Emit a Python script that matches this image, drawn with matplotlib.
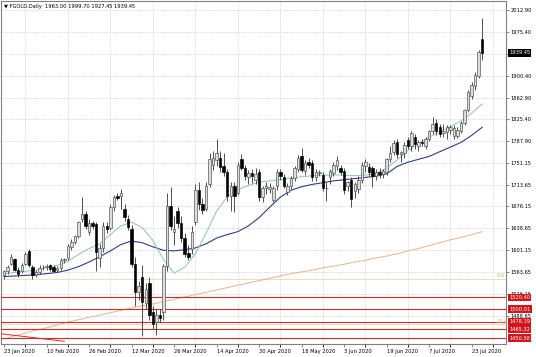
import numpy as np
import matplotlib.pyplot as plt

# daily OHLC, one value per bar (23 Jan 2020 .. 28 Jul 2020)
opens = [1558, 1565, 1578, 1586, 1567, 1566, 1578, 1600, 1573, 1558, 1563, 1572,
         1572, 1575, 1573, 1568, 1570, 1584, 1588, 1606, 1616, 1626, 1655, 1663,
         1633, 1648, 1646, 1588, 1605, 1643, 1640, 1675, 1694, 1694, 1672, 1655,
         1638, 1578, 1530, 1555, 1510, 1545, 1495, 1478, 1490, 1496, 1574, 1677,
         1632, 1668, 1648, 1622, 1596, 1604, 1650, 1705, 1680, 1672, 1715, 1748,
         1756, 1760, 1745, 1735, 1694, 1712, 1700, 1757, 1742, 1726, 1734, 1722,
         1735, 1692, 1708, 1706, 1688, 1711, 1735, 1726, 1701, 1711, 1725, 1741,
         1762, 1737, 1752, 1750, 1726, 1734, 1730, 1707, 1726, 1733, 1745, 1742,
         1737, 1712, 1722, 1703, 1706, 1722, 1745, 1743, 1742, 1728, 1735, 1732,
         1735, 1757, 1769, 1786, 1766, 1768, 1790, 1779, 1795, 1780, 1787, 1780,
         1792, 1805, 1820, 1812, 1802, 1803, 1808, 1797, 1797, 1806, 1820, 1842,
         1866, 1882, 1900, 1963.00]
highs = [1568, 1576, 1595, 1588, 1572, 1580, 1598, 1604, 1576, 1567, 1575, 1576,
         1578, 1577, 1575, 1574, 1588, 1588, 1612, 1620, 1628, 1652, 1692, 1668,
         1655, 1652, 1650, 1612, 1650, 1650, 1680, 1695, 1700, 1706, 1680, 1662,
         1645, 1590, 1548, 1575, 1545, 1555, 1505, 1500, 1500, 1578, 1700, 1710,
         1660, 1675, 1660, 1630, 1610, 1642, 1715, 1718, 1690, 1718, 1768, 1772,
         1791, 1772, 1768, 1740, 1718, 1718, 1752, 1766, 1748, 1738, 1740, 1742,
         1740, 1712, 1718, 1716, 1712, 1740, 1740, 1732, 1716, 1728, 1745, 1765,
         1777, 1755, 1760, 1756, 1740, 1738, 1736, 1718, 1740, 1752, 1762, 1748,
         1742, 1720, 1726, 1718, 1728, 1752, 1758, 1750, 1746, 1740, 1742, 1740,
         1760, 1780, 1790, 1792, 1772, 1786, 1795, 1806, 1800, 1790, 1792, 1796,
         1808, 1829, 1826, 1818, 1818, 1816, 1815, 1815, 1812, 1823, 1844, 1876,
         1890, 1906, 1945, 1999.70]
lows = [1552, 1560, 1575, 1565, 1556, 1562, 1575, 1572, 1552, 1555, 1560, 1568,
        1567, 1566, 1564, 1563, 1568, 1580, 1585, 1602, 1611, 1622, 1650, 1638,
        1628, 1638, 1566, 1573, 1598, 1630, 1636, 1668, 1688, 1672, 1652, 1636,
        1572, 1505, 1515, 1454, 1500, 1482, 1466, 1455, 1478, 1482, 1565, 1635,
        1610, 1640, 1615, 1590, 1585, 1595, 1645, 1670, 1664, 1668, 1710, 1738,
        1745, 1735, 1728, 1685, 1668, 1666, 1695, 1738, 1722, 1715, 1716, 1715,
        1685, 1683, 1698, 1700, 1684, 1705, 1722, 1708, 1695, 1706, 1720, 1736,
        1735, 1730, 1742, 1720, 1720, 1728, 1703, 1686, 1715, 1728, 1738, 1730,
        1698, 1702, 1675, 1690, 1700, 1716, 1735, 1728, 1710, 1722, 1725, 1725,
        1730, 1752, 1765, 1760, 1752, 1760, 1775, 1771, 1775, 1771, 1780, 1775,
        1788, 1800, 1798, 1795, 1796, 1792, 1800, 1792, 1794, 1802, 1815, 1838,
        1860, 1876, 1896, 1927.45]
closes = [1566, 1572, 1589, 1568, 1561, 1576, 1595, 1576, 1558, 1563, 1571, 1572,
          1574, 1569, 1566, 1570, 1584, 1586, 1608, 1616, 1625, 1650, 1663, 1643,
          1648, 1642, 1598, 1605, 1643, 1638, 1675, 1692, 1690, 1700, 1658, 1641,
          1578, 1530, 1540, 1513, 1535, 1490, 1475, 1490, 1485, 1574, 1677, 1643,
          1638, 1648, 1622, 1595, 1590, 1633, 1705, 1680, 1670, 1712, 1757, 1760,
          1768, 1743, 1735, 1694, 1712, 1694, 1748, 1742, 1728, 1734, 1728, 1732,
          1692, 1708, 1712, 1710, 1708, 1735, 1728, 1712, 1711, 1725, 1742, 1760,
          1738, 1750, 1748, 1726, 1736, 1736, 1707, 1708, 1737, 1748, 1755, 1736,
          1704, 1718, 1689, 1714, 1722, 1748, 1752, 1736, 1729, 1736, 1732, 1737,
          1757, 1768, 1785, 1766, 1770, 1782, 1779, 1802, 1783, 1787, 1785, 1792,
          1805, 1817, 1805, 1800, 1806, 1812, 1812, 1811, 1808, 1820, 1842, 1872,
          1885, 1902, 1941, 1939.45]

# moving averages, every 3rd bar
ma_bars = list(range(0, 136, 3))
ma_fast = [1561, 1563, 1565, 1567, 1571, 1575, 1582, 1594, 1604, 1612, 1628, 1643,
           1649, 1640, 1618, 1585, 1562, 1572, 1595, 1630, 1668, 1693, 1705, 1712,
           1718, 1720, 1722, 1725, 1727, 1729, 1730, 1730, 1730, 1729, 1730, 1733,
           1742, 1756, 1772, 1784, 1795, 1804, 1813, 1823, 1836, 1852]
ma_slow = [1556, 1557, 1558, 1559, 1561, 1563, 1567, 1573, 1581, 1590, 1600, 1611,
           1617, 1614, 1607, 1601, 1600, 1602, 1605, 1612, 1622, 1628, 1633, 1643,
           1657, 1675, 1692, 1704, 1710, 1714, 1717, 1720, 1722, 1724, 1726, 1728,
           1732, 1745, 1752, 1757, 1762, 1770, 1778, 1786, 1798, 1812]
ma_long = [1449, 1454, 1459, 1464, 1468, 1473, 1478, 1482, 1486, 1490, 1494, 1498,
           1502, 1506, 1509, 1513, 1517, 1521, 1525, 1529, 1533, 1537, 1541, 1545,
           1549, 1553, 1557, 1561, 1564, 1567, 1571, 1574, 1577, 1581, 1584, 1588,
           1591, 1595, 1600, 1604, 1609, 1614, 1619, 1623, 1628, 1633]

# trend line drawn on the chart: (bar, price) end points
trend_bars = [-1, 17]
trend_prices = [1458, 1445]

date_labels = ['23 Jan 2020', '10 Feb 2020', '26 Feb 2020', '12 Mar 2020', '26 Mar 2020',
               '14 Apr 2020', '30 Apr 2020', '18 May 2020', '3 Jun 2020', '19 Jun 2020',
               '7 Jul 2020', '23 Jul 2020']
price_ticks = [2012.90, 1975.40, 1937.90, 1900.40, 1862.90, 1825.40, 1787.90, 1751.15,
               1713.65, 1676.15, 1638.65, 1601.15, 1563.65, 1526.15, 1488.65]
levels = [1520.40, 1500.01, 1478.19, 1465.32, 1450.58]
fib_levels = [1552.5, 1474.0]
fib_names = ['8.6', '23.6']

o = np.array(opens); h = np.array(highs); l = np.array(lows); c = np.array(closes)
x = np.arange(len(c))
up = c >= o

fig = plt.figure(figsize=(5.36, 3.57), dpi=100)
ax = fig.add_axes([0.002, 0.036, 0.942, 0.961])
fs = 3.7

# grid
ax.set_xticks(range(0, 142, 6), minor=True)
ax.grid(True, which='minor', axis='x', color='#c8c8c8', lw=0.5, ls=(0, (1.5, 1.5)))
ax.grid(True, which='major', axis='y', color='#c8c8c8', lw=0.5, ls=(0, (1.5, 1.5)))

# levels
for lv in levels:
    ax.axhline(lv, color='#d42a2a', lw=0.8, zorder=2.6)
for lv, nm in zip(fib_levels, fib_names):
    ax.axhline(lv, color='#ead9b0', lw=0.6, zorder=2)
    ax.text(139.0, lv + 1.5, nm, color='#d8b878', fontsize=fs, va='bottom', zorder=3)
ax.plot(trend_bars, trend_prices, color='#d42a2a', lw=0.7, zorder=2.6)

# moving averages
ax.plot(ma_bars, ma_long, color='#e2b58f', lw=0.7, zorder=2)
ax.plot(ma_bars, ma_slow, color='#2f3f86', lw=0.8, zorder=2)
ax.plot(ma_bars, ma_fast, color='#8cc3b3', lw=0.7, zorder=2)

# candles
ax.vlines(x, l, h, color='#333333', lw=0.6, zorder=3)
body_lo = np.minimum(o, c)
body_h = np.abs(c - o)
ax.bar(x[up], body_h[up], bottom=body_lo[up], width=0.7, color='#dcdcdc',
       edgecolor='#4a4a4a', lw=0.45, zorder=4)
ax.bar(x[~up], body_h[~up], bottom=body_lo[~up], width=0.7, color='#000000',
       edgecolor='#000000', lw=0.45, zorder=4)

ax.set_xlim(-0.85, 141.7)
ax.set_ylim(1440.1, 2028.3)

ax.set_xticks(range(0, 12 * len(date_labels), 12))
ax.set_xticklabels(date_labels, fontsize=fs)
for t in ax.get_xticklabels():
    t.set_ha('left')
ax.tick_params(axis='x', length=2, width=0.5, pad=1.5, color='#555555')

# the 1937.90 label sits under the last-price box, so it is left blank
ax.yaxis.tick_right()
ax.set_yticks(price_ticks)
ax.set_yticklabels(['' if abs(p - closes[-1]) < 5 else '%.2f' % p for p in price_ticks],
                   fontsize=fs)
ax.tick_params(axis='y', length=2, width=0.5, pad=1.5, color='#555555')

for s in ax.spines.values():
    s.set_color('#808080')
    s.set_linewidth(0.8)

# price labels on the right scale
for lv in levels:
    ax.text(1.006, lv, '%.2f' % lv, transform=ax.get_yaxis_transform(), fontsize=fs,
            color='white', va='center', ha='left', zorder=10,
            bbox=dict(boxstyle='square,pad=0.25', fc='#d4141a', ec='none'))
ax.text(1.006, closes[-1], '%.2f' % closes[-1], transform=ax.get_yaxis_transform(),
        fontsize=fs, color='white', va='center', ha='left', zorder=10,
        bbox=dict(boxstyle='square,pad=0.25', fc='#000000', ec='none'))

ax.text(0.006, 0.992, '\u25bc FGOLD,Daily  1963.00 1999.70 1927.45 1939.45',
        transform=ax.transAxes, fontsize=fs, va='top', ha='left')

fig.savefig('out.png', dpi=100, facecolor='white')
